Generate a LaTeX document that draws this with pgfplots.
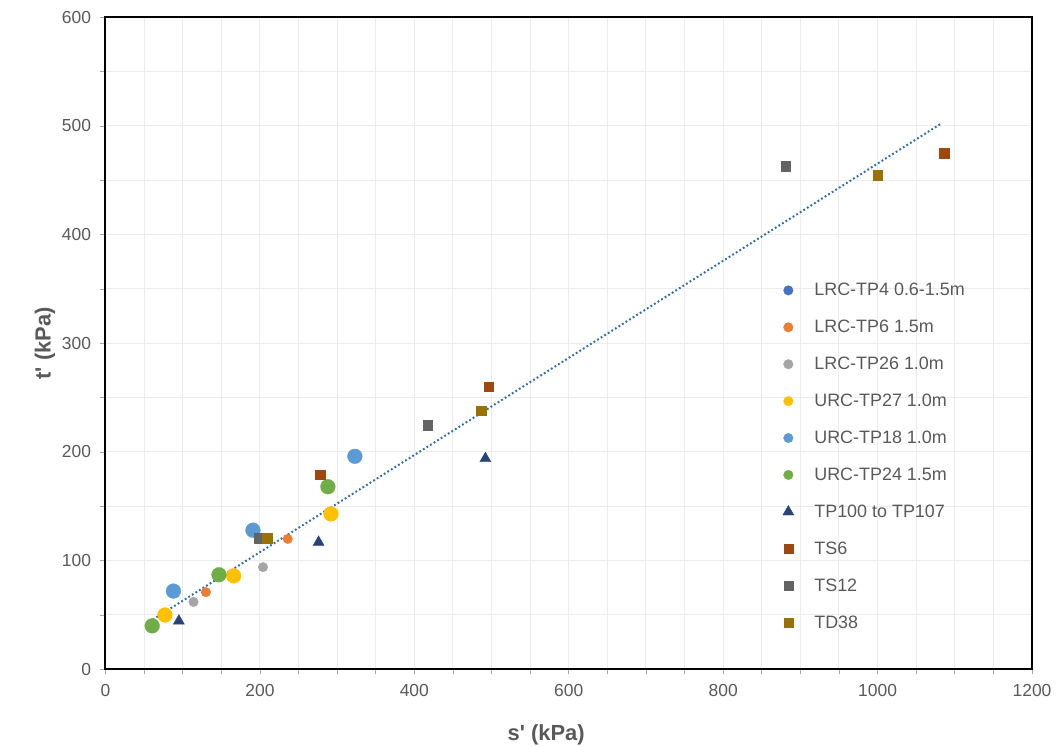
\documentclass[border=0pt]{standalone}
\usepackage{fontspec}
\setmainfont{Liberation Sans}
\usepackage{pgfplots}
\pgfplotsset{compat=1.18}
\definecolor{cTPfour}{RGB}{68,114,196}
\definecolor{cTPsix}{RGB}{237,125,49}
\definecolor{cTPtwsix}{RGB}{165,165,165}
\definecolor{cTPtwseven}{RGB}{255,192,0}
\definecolor{cTPeighteen}{RGB}{91,155,213}
\definecolor{cTPtwfour}{RGB}{112,173,71}
\definecolor{cTPhund}{RGB}{38,68,120}
\definecolor{cTSsix}{RGB}{158,72,14}
\definecolor{cTStwelve}{RGB}{99,99,99}
\definecolor{cTDtheight}{RGB}{153,115,0}
\definecolor{trend}{RGB}{46,109,170}
\definecolor{txtgray}{RGB}{89,89,89}
\definecolor{gridgray}{RGB}{236,236,236}
\begin{document}
\begin{tikzpicture}
\useasboundingbox (-105.5bp,-77.7bp) rectangle (950.5bp,669.3bp);
\begin{axis}[
  at={(0,0)}, anchor=south west,
  scale only axis, width=926.5bp, height=652bp,
  xmin=0, xmax=1200, ymin=0, ymax=600,
  xtick distance=200, ytick distance=100,
  minor x tick num=3, minor y tick num=1,
  grid=both,
  major grid style={draw=gridgray, line width=1bp},
  minor grid style={draw=gridgray, line width=1bp},
  tick pos=left, tick align=outside,
  major tick length=5bp, minor tick length=5bp,
  tick style={draw=black!35, line width=0.8bp},
  axis line style={draw=black, line width=2bp},
  /pgf/number format/assume math mode=true,
  /pgf/number format/1000 sep={},
  ticklabel style={font=\fontsize{17.5}{19}\selectfont, text=txtgray},
  xticklabel style={yshift=-7bp},
  yticklabel style={xshift=-6bp},
  xlabel={\textbf{s\textquotesingle\ (kPa)}},
  ylabel={\textbf{t\textquotesingle\ (kPa)}},
  label style={font=\fontsize{22}{24}\selectfont, text=txtgray},
  xlabel style={at={(axis description cs:0.4756,-0.1012)}, anchor=center},
  ylabel style={at={(axis description cs:-0.0653,0.5)}, anchor=center},
  legend cell align=left,
  legend style={draw=none, fill=none, at={(axis cs:872.5,358.5)}, anchor=north west,
    font=\fontsize{18}{20}\selectfont, text=txtgray,
    row sep=19.9bp,
    nodes={inner sep=2bp, text height=12bp, text depth=1bp}},
  legend image code/.code={\path[draw=none, fill=none] (-6bp,0bp) -- (24bp,0bp); \draw[#1] plot coordinates {(0bp,0bp)};},
  every axis plot/.append style={mark options={solid, line width=0.3bp}},
]
\addlegendimage{only marks, mark=*, mark size=4.8bp, color=cTPfour}
\addlegendentry{LRC-TP4 0.6-1.5m}
\addplot[only marks, mark=*, mark size=4.8bp, color=cTPsix]
  coordinates {(130,71) (236,120)};
\addlegendentry{LRC-TP6 1.5m}
\addplot[only marks, mark=*, mark size=4.8bp, color=cTPtwsix]
  coordinates {(114,62) (204,94)};
\addlegendentry{LRC-TP26 1.0m}
\addplot[only marks, mark=*, mark size=7.4bp, color=cTPtwseven, legend image post style={mark size=4.8bp}]
  coordinates {(77,50) (166,86) (292,143)};
\addlegendentry{URC-TP27 1.0m}
\addplot[only marks, mark=*, mark size=7.4bp, color=cTPeighteen, legend image post style={mark size=4.8bp}]
  coordinates {(88,72) (191,128) (323,196)};
\addlegendentry{URC-TP18 1.0m}
\addplot[only marks, mark=*, mark size=7.4bp, color=cTPtwfour, legend image post style={mark size=4.8bp}]
  coordinates {(60.5,40) (147,87) (288,168)};
\addlegendentry{URC-TP24 1.5m}
\addplot[only marks, mark=triangle*, mark size=6.4bp, color=cTPhund]
  coordinates {(95,44.5) (276,117) (492,194)};
\addlegendentry{TP100 to TP107}
\addplot[only marks, mark=square*, mark size=4.8bp, color=cTSsix, legend image post style={mark size=4.5bp}]
  coordinates {(278,179) (496,260) (1086,475)};
\addlegendentry{TS6}
\addplot[only marks, mark=square*, mark size=4.8bp, color=cTStwelve, legend image post style={mark size=4.5bp}]
  coordinates {(199,120.5) (417,224.5) (881,463)};
\addlegendentry{TS12}
\addplot[only marks, mark=square*, mark size=4.8bp, color=cTDtheight, legend image post style={mark size=4.5bp}]
  coordinates {(209,120.5) (486.5,238) (1000,455)};
\addlegendentry{TD38}
\addplot[forget plot, draw=trend, line width=2bp, dash pattern=on 1.8bp off 2.4bp]
  coordinates {(61.3,45.8) (1082.6,502.3)};
\end{axis}
\end{tikzpicture}
\end{document}
